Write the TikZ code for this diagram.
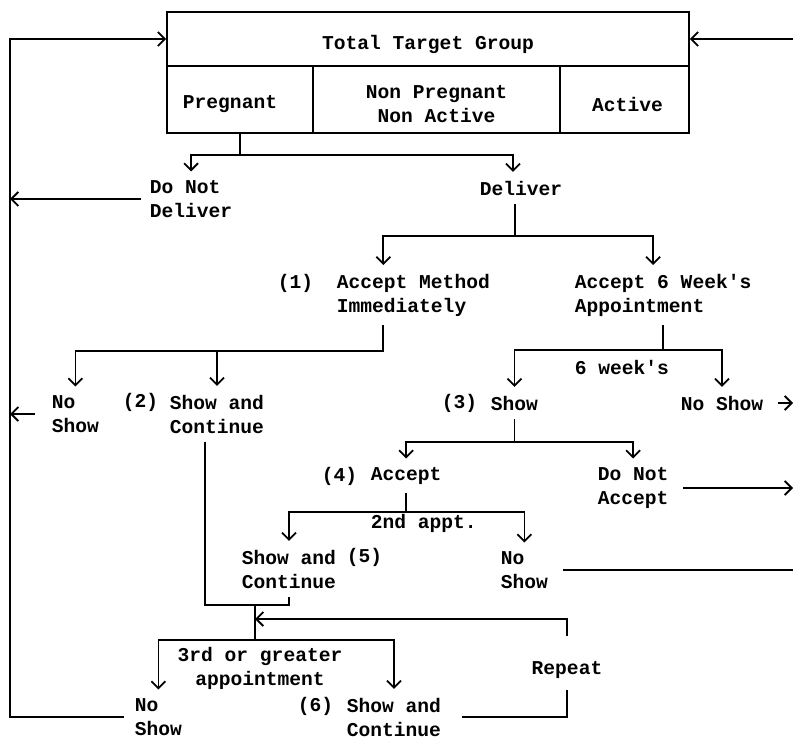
\documentclass[tikz,border=0pt]{standalone}
\usepackage{fontspec}
\setmonofont{Liberation Mono}
\usetikzlibrary{arrows.meta}
\tikzset{>={Straight Barb[length=3.5pt,width=7pt]}}
\newcommand{\lowered}[1]{\raisebox{-2.5pt}[\height][\depth]{#1}}

\begin{document}
\begin{tikzpicture}[x=0.5pt,y=-0.5pt,line width=0.9pt,
    every node/.style={font=\ttfamily\bfseries\fontsize{9.8}{12}\selectfont},
    txt/.style={anchor=west,align=left,inner xsep=1pt,inner ysep=4pt},
    cell/.style={draw,minimum height=33.5pt,inner sep=0pt,align=center}]
    \useasboundingbox (0,0) rectangle (793,738);

    % target group box
    \node[draw,minimum width=261pt,minimum height=27pt,inner sep=0pt] (total) at (428,39) {\lowered{Total Target Group}};
    \node[cell,minimum width=73pt] (pregnant) at (240,99.5) {\lowered{Pregnant\hspace*{10pt}}};
    \node[cell,minimum width=123.5pt] (nonpreg) at (436.5,99.5) {\lowered{Non Pregnant}\\\lowered{Non Active}};
    \node[cell,minimum width=64.5pt] (active) at (624.5,99.5) {\lowered{\hspace*{3pt}Active}};

    \node[txt] (notdeliver) at (147,199) {Do Not\\Deliver};
    \node[txt] (deliver) at (477,188) {Deliver};
    \node[txt] (num1) at (275,283) {(1)};
    \node[txt] (acceptnow) at (334,295) {Accept Method\\Immediately};
    \node[txt] (acceptsix) at (572,295) {Accept 6 Week's\\Appointment};
    \node[txt] (noshowA) at (49,414) {No\\Show};
    \node[txt] (num2) at (120,402) {(2)};
    \node[txt] (showcontA) at (167,414) {Show and\\Continue};
    \node[txt] (sixweeks) at (572,367) {6 week's};
    \node[txt] (num3) at (439,403) {(3)};
    \node[txt] (showB) at (488,403) {Show};
    \node[txt] (noshowB) at (678,403) {No Show};
    \node[txt] (num4) at (319,476) {(4)};
    \node[txt] (acceptB) at (368,476) {Accept};
    \node[txt] (notaccept) at (595,488) {Do Not\\Accept};
    \node[txt] (secondappt) at (368,523) {2nd appt.};
    \node[txt] (showcontC) at (239,569) {Show and\\Continue};
    \node[txt] (num5) at (344,557) {(5)};
    \node[txt] (noshowC) at (498,570) {No\\Show};
    \node[align=center,inner sep=0pt] (thirdappt) at (260,668) {3rd or greater\\appointment};
    \node[txt] (noshowD) at (132,717) {No\\Show};
    \node[txt] (num6) at (295,706) {(6)};
    \node[txt] (showcontD) at (344,717) {Show and\\Continue};
    \node[minimum height=26pt,inner sep=0pt] (repeat) at (567,663) {\raisebox{-3.5pt}[\height][\depth]{Repeat}};

    \coordinate (spine) at (10,400);
    \coordinate (rim) at (793,400);
    \coordinate (bar1) at (0,155);
    \coordinate (bar2) at (0,236);
    \coordinate (bar3) at (0,351);
    \coordinate (bar4) at (0,350);
    \coordinate (bar5) at (0,442);
    \coordinate (bar6) at (0,512);
    \coordinate (bar7) at (0,640);
    \coordinate (loop) at (0,619);
    \coordinate (join) at (255,605);
    \coordinate (del-in) at ([xshift=-4pt]deliver.north);
    \coordinate (del-out) at ([xshift=-3pt]deliver.south);
    \coordinate (six-in) at ([xshift=-5pt]acceptsix.north);
    \coordinate (imm-in) at ([xshift=-15pt]acceptnow.north);
    \coordinate (imm-out) at ([xshift=-15pt]acceptnow.south);
    \coordinate (contA-out) at ([xshift=-6pt]showcontA.south);

    % branches
    \draw[->] (pregnant.south) |- (notdeliver.north |- bar1) -- (notdeliver.north);
    \draw[->] (pregnant.south) |- (del-in |- bar1) -- (del-in);
    \draw[->] (del-out) |- (imm-in |- bar2) -- (imm-in);
    \draw[->] (del-out) |- (six-in |- bar2) -- (six-in);
    \draw[->] (imm-out) |- (noshowA.north |- bar3) -- (noshowA.north);
    \draw[->] (imm-out) |- (showcontA.north |- bar3) -- (showcontA.north);
    \draw[->] (acceptsix.south) |- (showB.north |- bar4) -- (showB.north);
    \draw[->] (acceptsix.south) |- (noshowB.north |- bar4) -- (noshowB.north);
    \draw[->] (showB.south) |- (acceptB.north |- bar5) -- (acceptB.north);
    \draw[->] (showB.south) |- (notaccept.north |- bar5) -- (notaccept.north);
    \draw[->] (acceptB.south) |- (showcontC.north |- bar6) -- (showcontC.north);
    \draw[->] (acceptB.south) |- (noshowC.north |- bar6) -- (noshowC.north);
    \draw (contA-out) |- (showcontC.south |- join) -- (showcontC.south);
    \draw[->] (join) |- (noshowD.north |- bar7) -- (noshowD.north);
    \draw[->] (join) |- (showcontD.north |- bar7) -- (showcontD.north);
    % repeat loop
    \draw ([xshift=9pt]showcontD.east) -| (repeat.south);
    \draw[->] (repeat.north) |- (join |- loop);

    % back to the target group
    \draw[->] ([xshift=-4pt]noshowD.west) -| (spine) |- (total.west);
    \draw[->] ([xshift=-3pt]notdeliver.west) -- (notdeliver.west -| spine);
    \draw[->] ([xshift=-7pt]noshowA.west) -- (noshowA.west -| spine);
    \draw[->] (total.east -| rim) -- (total.east);
    \draw[->] ([xshift=6pt]noshowB.east) -- (noshowB.east -| rim);
    \draw[->] ([xshift=6pt]notaccept.east) -- (notaccept.east -| rim);
    \draw ([xshift=6pt]noshowC.east) -- (noshowC.east -| rim);
    %\draw (rim) -- (rim |- total.east);
\end{tikzpicture}
\end{document}
